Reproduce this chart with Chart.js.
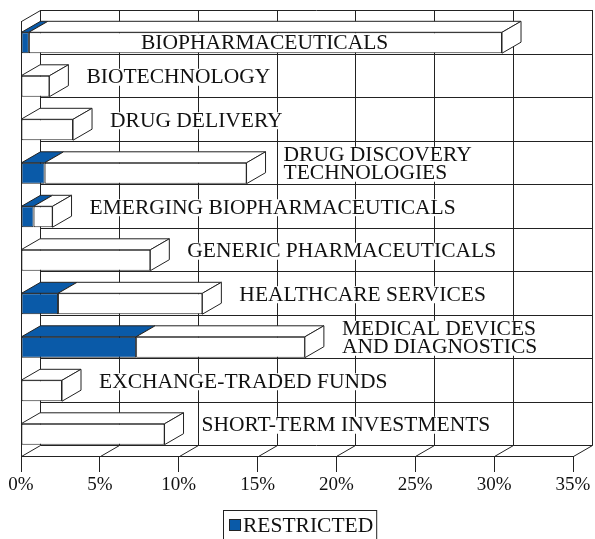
<!DOCTYPE html>
<html>
<head>
<meta charset="utf-8">
<script src="https://cdn.jsdelivr.net/npm/chart.js@4.4.0/dist/chart.umd.min.js"></script>
<style>
  body { margin: 0; background: #fff; }
  #wrap { width: 595px; height: 539px; }
</style>
</head>
<body>
<div id="wrap"><canvas id="c"></canvas></div>
<script>
var categories = [
  "BIOPHARMACEUTICALS",
  "BIOTECHNOLOGY",
  "DRUG DELIVERY",
  ["DRUG DISCOVERY", "TECHNOLOGIES"],
  "EMERGING BIOPHARMACEUTICALS",
  "GENERIC PHARMACEUTICALS",
  "HEALTHCARE SERVICES",
  ["MEDICAL DEVICES", "AND DIAGNOSTICS"],
  "EXCHANGE-TRADED FUNDS",
  "SHORT-TERM INVESTMENTS"
];
// percent of net assets, restricted part and the rest
var restricted   = [0.5, 0, 0, 1.5, 0.8, 0, 2.35, 7.3, 0, 0];
var unrestricted = [30.0, 1.8, 3.3, 12.8, 1.2, 8.2, 9.15, 10.7, 2.6, 9.1];
var xTicks = [0, 5, 10, 15, 20, 25, 30, 35];
var legendLabel = "RESTRICTED";

var BLUE = "#0a5aa8";
var INK = "#222";
var DX = 19, DY = -11;   // depth of the fake 3d
var SERIF = "'Liberation Serif', 'Times New Roman', serif";
var FONT = "21.5px " + SERIF;

var depthPlugin = {
  id: "depth",
  beforeDatasetsDraw: function(chart) {
    var ctx = chart.ctx, a = chart.chartArea;
    var xs = chart.scales.x;
    var band = a.height / categories.length;
    ctx.save();
    ctx.strokeStyle = INK;
    ctx.lineWidth = 1;
    ctx.beginPath();
    // back wall
    ctx.rect(Math.round(a.left + DX) + 0.5, Math.round(a.top + DY) + 0.5, Math.round(a.width), Math.round(a.height));
    // back wall grid
    xTicks.forEach(function(t) {
      var x = Math.round(xs.getPixelForValue(t) + DX) + 0.5;
      ctx.moveTo(x, a.top + DY); ctx.lineTo(x, a.bottom + DY);
    });
    for (var i = 1; i < categories.length; i++) {
      var y = Math.round(a.top + DY + band * i) + 0.5;
      ctx.moveTo(a.left + DX, y); ctx.lineTo(a.right + DX, y);
    }
    // left wall
    ctx.moveTo(a.left + 0.5, a.top); ctx.lineTo(a.left + 0.5, a.bottom);
    ctx.moveTo(a.left + 0.5, a.top + 0.5); ctx.lineTo(a.left + DX + 0.5, a.top + DY + 0.5);
    // floor
    ctx.moveTo(a.left, Math.round(a.bottom) + 0.5); ctx.lineTo(a.right, Math.round(a.bottom) + 0.5);
    xTicks.forEach(function(t) {
      var x = Math.round(xs.getPixelForValue(t)) + 0.5;
      ctx.moveTo(x, Math.round(a.bottom) + 0.5); ctx.lineTo(x + DX, Math.round(a.bottom + DY) + 0.5);
    });
    ctx.stroke();
    ctx.restore();
  },
  afterDatasetsDraw: function(chart) {
    var ctx = chart.ctx, a = chart.chartArea;
    var m0 = chart.getDatasetMeta(0), m1 = chart.getDatasetMeta(1);
    ctx.save();
    ctx.strokeStyle = INK;
    ctx.lineWidth = 1;
    ctx.lineJoin = "round";
    function quad(p, fill) {
      ctx.beginPath();
      ctx.moveTo(p[0][0], p[0][1]);
      for (var k = 1; k < p.length; k++) ctx.lineTo(p[k][0], p[k][1]);
      ctx.closePath();
      ctx.fillStyle = fill;
      ctx.fill();
      ctx.stroke();
    }
    categories.forEach(function(cat, i) {
      var b0 = m0.data[i], b1 = m1.data[i];
      var top = b0.y - b0.height / 2, bot = b0.y + b0.height / 2;
      var xa = b0.base, xb = b0.x, xc = b1.x;
      if (xb - xa > 0.5) quad([[xa, top], [xb, top], [xb + DX, top + DY], [xa + DX, top + DY]], BLUE);
      if (xc - xb > 0.5) quad([[xb, top], [xc, top], [xc + DX, top + DY], [xb + DX, top + DY]], "#fff");
      quad([[xc, top], [xc + DX, top + DY], [xc + DX, bot + DY], [xc, bot]], "#fff");

      // category label to the right of the box, or inside it when it does not fit
      var lines = Array.isArray(cat) ? cat : [cat];
      ctx.font = FONT;
      var w = 0;
      lines.forEach(function(s) { w = Math.max(w, ctx.measureText(s).width); });
      var lx = xc + DX + 18, cy = b0.y - 9.5;
      if (lx + w > a.right + DX - 4) { lx = a.left + 120; cy = b0.y; }
      var lh = 18;
      var y0 = cy - (lines.length - 1) * lh / 2;
      ctx.fillStyle = "#fff";
      ctx.fillRect(lx - 2, y0 - 8, w + 4, (lines.length - 1) * lh + 17);
      ctx.fillStyle = "#111";
      ctx.textBaseline = "middle";
      lines.forEach(function(s, k) { ctx.fillText(s, lx, y0 + k * lh + 1); });
    });
    ctx.restore();
  },
  afterDraw: function(chart) {
    // boxed legend for the restricted series
    var ctx = chart.ctx;
    var ds = chart.data.datasets[0];
    ctx.save();
    ctx.font = FONT;
    var tw = ctx.measureText(ds.label).width;
    var bw = 6 + 12 + 2 + tw + 3;
    var bx = Math.round(chart.width / 2 + 2 - bw / 2);
    var by = 510;
    ctx.strokeStyle = INK;
    ctx.lineWidth = 1;
    ctx.strokeRect(bx + 0.5, by + 0.5, bw, 40);
    ctx.fillStyle = ds.backgroundColor;
    ctx.fillRect(bx + 6, by + 9, 12, 12);
    ctx.strokeRect(bx + 6.5, by + 9.5, 11, 11);
    ctx.fillStyle = "#111";
    ctx.textBaseline = "middle";
    ctx.fillText(ds.label, bx + 20, by + 16);
    ctx.restore();
  }
};

new Chart(document.getElementById("c"), {
  type: "bar",
  data: {
    labels: categories,
    datasets: [
      { label: legendLabel, data: restricted, backgroundColor: BLUE, borderColor: INK, borderWidth: 1, borderSkipped: false },
      { label: "OTHER", data: unrestricted, backgroundColor: "#fff", borderColor: INK, borderWidth: 1, borderSkipped: false }
    ]
  },
  options: {
    indexAxis: "y",
    responsive: true,
    maintainAspectRatio: false,
    animation: false,
    layout: { padding: { left: 21, right: 22, top: 21, bottom: 33 } },
    datasets: { bar: { categoryPercentage: 1, barPercentage: 0.48 } },
    scales: {
      x: {
        stacked: true,
        min: 0, max: 35,
        afterBuildTicks: function(s) { s.ticks = xTicks.map(function(v) { return { value: v }; }); },
        afterFit: function(s) { s.height = 50; },
        border: { display: false },
        grid: { drawOnChartArea: false, drawTicks: true, tickLength: 16, color: INK },
        ticks: {
          color: "#111",
          padding: 2,
          maxRotation: 0,
          font: { family: SERIF, size: 19 },
          callback: function(v) { return v + "%"; }
        }
      },
      y: { stacked: true, display: false }
    },
    plugins: {
      tooltip: { enabled: false },
      legend: { display: false }
    }
  },
  plugins: [depthPlugin]
});
</script>
</body>
</html>
